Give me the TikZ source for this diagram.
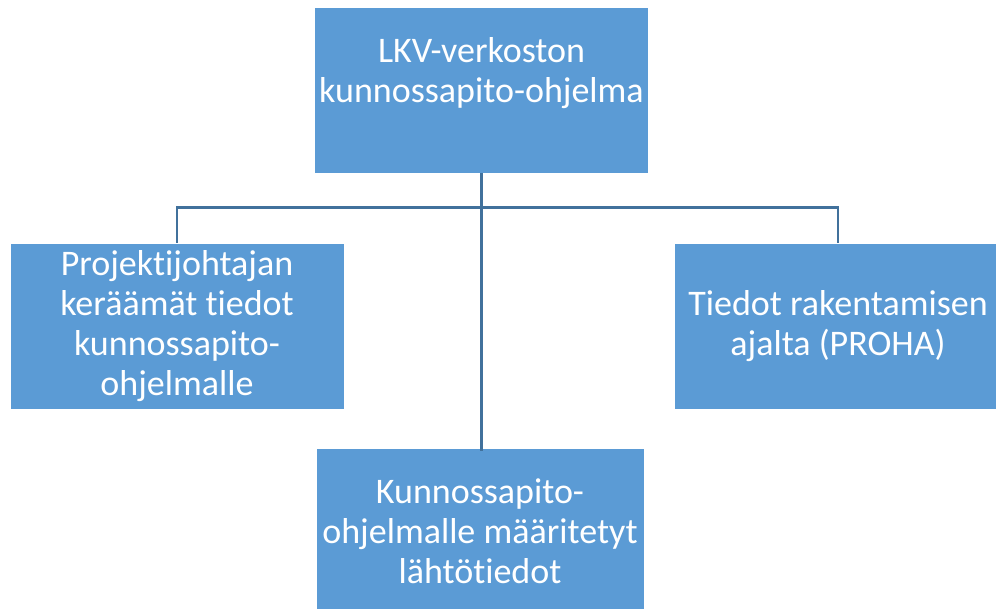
\documentclass[tikz,border=0pt]{standalone}
\usepackage{fontspec}
\setmainfont{Carlito}[Ligatures={NoCommon,NoRare,NoContextual}]
\usetikzlibrary{positioning}
\definecolor{boxblue}{HTML}{5B9BD5}
\definecolor{lineblue}{HTML}{41719C}

\begin{document}
\begin{tikzpicture}[x=1pt, y=-1pt,
  box/.style={draw=white, line width=0.8pt, fill=boxblue, text=white, align=center,
    inner sep=0pt, minimum height=166,
    font=\fontsize{36}{40}\selectfont},
  conn/.style={draw=lineblue, line width=2.2pt}]
\useasboundingbox (0,0) rectangle (996,609);
\clip (0,0) rectangle (996,609);
% The main box and the three boxes below it
\node [box, minimum width=334] (lkv) at (481.5,90)
  {LKV-verkoston\\kunnossapito-ohjelma\\\vphantom{k}};
\node [box, minimum width=334] (proj) at (177,326.5)
  {Projektijohtajan\\keräämät tiedot\\kunnossapito-\\ohjelmalle};
\node [box, minimum width=328] (proha) at (838,326.5)
  {Tiedot rakentamisen\\ajalta (PROHA)};
\node [box, minimum width=328] (lahto) at (480,531)
  {Kunnossapito-\\ohjelmalle määritetyt\\lähtötiedot};
% Connectors from the main box
\coordinate (split) at (481.5,207.5);
\draw [conn] (lkv.south) -- (split);
\foreach \n in {proj, proha} {
  \draw [conn] (split) -| (\n.north);
}
\draw [conn] (split) -- ([yshift=-3]lahto.north -| split);
\end{tikzpicture}
\end{document}
